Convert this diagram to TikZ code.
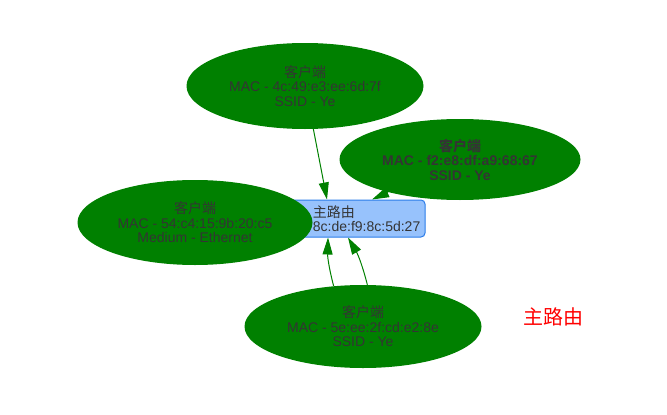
\documentclass[tikz,border=0pt]{standalone}
\usepackage{fontspec}
\setmainfont{Liberation Sans}
\newfontfamily\cjk{Noto Sans CJK SC}
\usetikzlibrary{arrows.meta, shapes.geometric}
\pgfdeclarelayer{edges}
\pgfsetlayers{edges,main}
\definecolor{vgreen}{HTML}{008000}
\definecolor{vtext}{HTML}{343434}
\definecolor{boxfill}{HTML}{97C2FC}
\definecolor{boxline}{HTML}{2B7CE9}

\begin{document}
\begin{tikzpicture}[
    x=1pt, y=-1pt,
    client/.style={ellipse, fill=vgreen, draw=none, inner sep=0pt, align=center, text=vtext, font=\fontsize{14}{14.5}\selectfont},
    routerbox/.style={rectangle, draw=boxline, fill=boxfill, line width=1pt, rounded corners=4pt, minimum width=155pt, minimum height=37pt, inner sep=0pt},
    boxtext/.style={align=left, inner sep=0pt, text=vtext, font=\fontsize{14}{14.5}\selectfont},
    arrow/.style={-{Triangle[length=17pt, width=10pt]}, draw=vgreen, line width=1pt}
  ]
    \useasboundingbox (0,0) rectangle (667,415);

    % Nodes
    \node[routerbox] (router) at (347.5,218.5) {};
    \node[boxtext, anchor=east] (routerlabel) at ([xshift=-5pt]router.east) {{\cjk 主路由}\\8c:de:f9:8c:5d:27};

    \node[client, minimum width=237pt, minimum height=86pt] (clientA) at (305,86) {{\cjk 客户端}\\MAC - 4c:49:e3:ee:6d:7f\\SSID - Ye};
    \node[client, minimum width=241pt, minimum height=81pt, font=\fontsize{14}{14.5}\selectfont\bfseries] (clientB) at (460,159.5) {{\cjk\bfseries 客户端}\\MAC - f2:e8:df:a9:68:67\\SSID - Ye};
    \node[client, minimum width=235pt, minimum height=85pt] (clientC) at (195,222.5) {{\cjk 客户端}\\MAC - 54:c4:15:9b:20:c5\\Medium - Ethernet};
    \node[client, minimum width=237pt, minimum height=83pt] (clientD) at (363,326.5) {{\cjk 客户端}\\MAC - 5e:ee:2f:cd:e2:8e\\SSID - Ye};

    \node[text=red, font=\cjk\fontsize{20}{24}\selectfont] (legend) at (553,317) {主路由};

    % Arrows
    \begin{pgfonlayer}{edges}
    \draw[arrow] (clientA.-79) -- ([xshift=-20.5pt]router.north);
    \draw[arrow] (clientB) -- ([xshift=24.5pt]router.north);
    \draw[arrow] (clientD.126) to[bend left=8] ([xshift=-19.5pt]router.south);
    \draw[arrow] (clientD.84) to[bend right=8] ([xshift=0.5pt]router.south);
    \end{pgfonlayer}
\end{tikzpicture}
\end{document}
